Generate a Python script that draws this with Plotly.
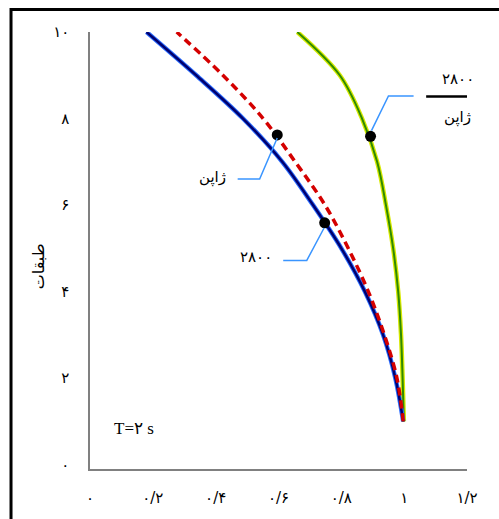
import plotly.graph_objects as go

# Floors of the building and normalized response per floor
floors = [1, 2, 3, 4, 5, 6, 7, 8, 9, 10]
code_2800 = [0.997, 0.972, 0.933, 0.875, 0.80, 0.71, 0.612, 0.487, 0.338, 0.18]
code_japan = [0.997, 0.977, 0.937, 0.886, 0.822, 0.748, 0.653, 0.551, 0.423, 0.276]
ratio = [0.999, 0.995, 0.99, 0.981, 0.965, 0.942, 0.914, 0.866, 0.795, 0.66]

# Marked points on each curve (x, floor)
marker_x = [0.596, 0.747, 0.893]
marker_y = [7.62, 5.59, 7.59]

x_tickvals = [0, 0.2, 0.4, 0.6, 0.8, 1.0, 1.2]
x_ticktext = ["۰", "۰/۲", "۰/۴", "۰/۶", "۰/۸", "۱", "۱/۲"]
y_tickvals = [0, 2, 4, 6, 8, 10]
y_ticktext = ["۰", "۲", "۴", "۶", "۸", "۱۰"]

FA = "DejaVu Sans"
SERIF = "Liberation Serif, DejaVu Sans"
SMOOTH = dict(shape="spline", smoothing=1.0)

fig = go.Figure()

# ratio curve: yellow halo under green line
fig.add_trace(go.Scatter(x=ratio, y=floors, mode="lines",
                         line=dict(color="#d6e800", width=4.5, **SMOOTH),
                         hoverinfo="skip"))
fig.add_trace(go.Scatter(x=ratio, y=floors, mode="lines",
                         line=dict(color="#2f8a00", width=2, **SMOOTH)))
# 2800 curve: light-blue halo under navy line
fig.add_trace(go.Scatter(x=code_2800, y=floors, mode="lines",
                         line=dict(color="#2a6cff", width=4.5, **SMOOTH),
                         hoverinfo="skip"))
fig.add_trace(go.Scatter(x=code_2800, y=floors, mode="lines",
                         line=dict(color="#000070", width=2.5, **SMOOTH)))
# Japan curve: red dashed
fig.add_trace(go.Scatter(x=code_japan, y=floors, mode="lines",
                         line=dict(color="#d40000", width=3.5, dash="8px,5px",
                                   **SMOOTH)))
# markers
fig.add_trace(go.Scatter(x=marker_x, y=marker_y, mode="markers",
                         marker=dict(color="black", size=11)))

callout = dict(color="#3a95ff", width=1.5)
shapes = [
    # callouts (data coords)
    dict(type="path", xref="x", yref="y", line=callout,
         path="M 0.596 7.55 L 0.54 6.6 L 0.47 6.6"),
    dict(type="path", xref="x", yref="y", line=callout,
         path="M 0.745 5.47 L 0.69 4.72 L 0.615 4.72"),
    dict(type="path", xref="x", yref="y", line=callout,
         path="M 0.896 7.72 L 0.95 8.52 L 1.03 8.52"),
    # fraction bar
    dict(type="line", xref="x", yref="y", x0=1.07, x1=1.27, y0=8.51, y1=8.51,
         line=dict(color="black", width=2.5)),
    # outer frame
    dict(type="rect", xref="paper", yref="paper", x0=-0.2095, x1=1.3,
         y0=-0.2, y1=1.0517, line=dict(color="black", width=3)),
]

annotations = [
    dict(x=0.44, y=6.64, xref="x", yref="y", text="ژاپن", showarrow=False,
         xanchor="right", font=dict(family=FA, size=15, color="black")),
    dict(x=0.585, y=4.8, xref="x", yref="y", text="۲۸۰۰", showarrow=False,
         xanchor="right", font=dict(family=FA, size=15, color="black")),
    dict(x=1.17, y=8.92, xref="x", yref="y", text="۲۸۰۰", showarrow=False,
         font=dict(family=FA, size=15, color="black")),
    dict(x=1.17, y=8.02, xref="x", yref="y", text="ژاپن", showarrow=False,
         font=dict(family=FA, size=15, color="black")),
    dict(x=0.07, y=0.84, xref="x", yref="y", text="T=۲ s", showarrow=False,
         xanchor="left", font=dict(family=SERIF, size=17, color="black")),
    dict(x=-0.167, y=0.463, xref="paper", yref="paper", text="طبقات",
         showarrow=False, textangle=-90,
         font=dict(family=FA, size=16, color="black")),
]

fig.update_layout(
    width=499, height=519,
    margin=dict(l=90, r=32, t=32, b=42),
    paper_bgcolor="white", plot_bgcolor="white",
    showlegend=False,
    shapes=shapes, annotations=annotations,
    xaxis=dict(range=[0, 1.2], tickvals=x_tickvals, ticktext=x_ticktext,
               showgrid=False, zeroline=False, showline=True,
               linecolor="#808080", linewidth=1.5, ticks="",
               ticklabelstandoff=14,
               tickfont=dict(family=FA, size=15, color="black")),
    yaxis=dict(range=[-0.1, 10], tickvals=y_tickvals, ticktext=y_ticktext,
               showgrid=False, zeroline=False, showline=True,
               linecolor="#808080", linewidth=1.5, ticks="",
               ticklabelstandoff=16,
               tickfont=dict(family=FA, size=15, color="black")),
)

fig.write_html("out.html")
